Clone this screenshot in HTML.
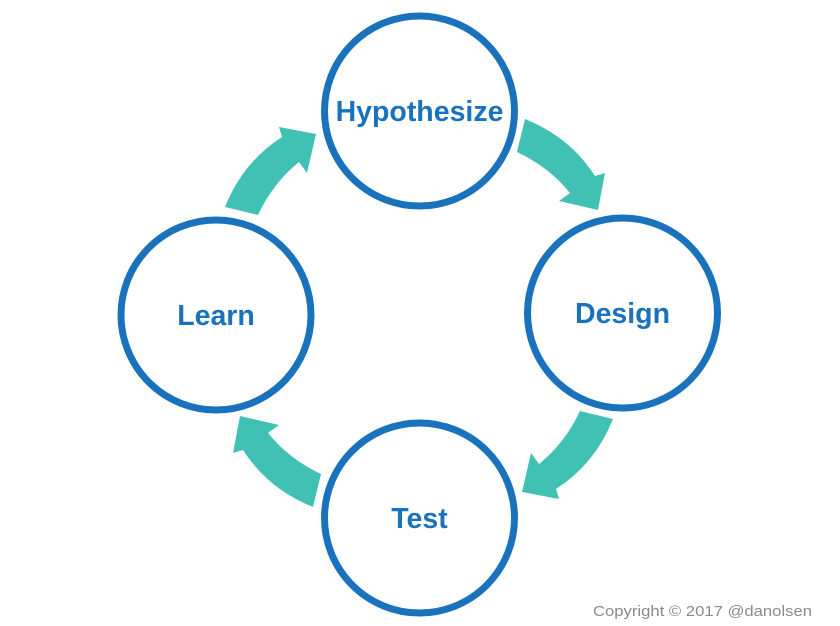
<!DOCTYPE html>
<html><head><meta charset="utf-8"><style>
html,body{margin:0;padding:0;background:#fff;}
svg{display:block;}
</style></head><body>
<svg width="840" height="626" viewBox="0 0 840 626" xmlns="http://www.w3.org/2000/svg">
<g fill="#41c0b4">
<path id="a" d="M525,119 Q570,137 595,176 L605,173 L598,210 L559,201 L570,193 Q549,167 517,152 Z"/>
<use href="#a" transform="rotate(90 419 313)"/>
<use href="#a" transform="rotate(180 419 313)"/>
<use href="#a" transform="rotate(270 419 313)"/>
</g>
<g fill="#fff" stroke="#1a72bd" stroke-width="7">
<circle cx="419.5" cy="111" r="95"/>
<circle cx="622.5" cy="313" r="95"/>
<circle cx="419.5" cy="518" r="95"/>
<circle cx="216" cy="315" r="95"/>
</g>
<g fill="#1a72bd" font-family="Liberation Sans, sans-serif" font-weight="bold" font-size="28.5" text-anchor="middle">
<text x="419.5" y="121">Hypothesize</text>
<text x="622.5" y="323">Design</text>
<text x="419.5" y="528">Test</text>
<text x="216" y="325">Learn</text>
</g>
<text x="593" y="616" font-family="Liberation Sans, sans-serif" font-size="15" fill="#8a8a8a" textLength="219" lengthAdjust="spacingAndGlyphs">Copyright © 2017 @danolsen</text>
</svg>
</body></html>
